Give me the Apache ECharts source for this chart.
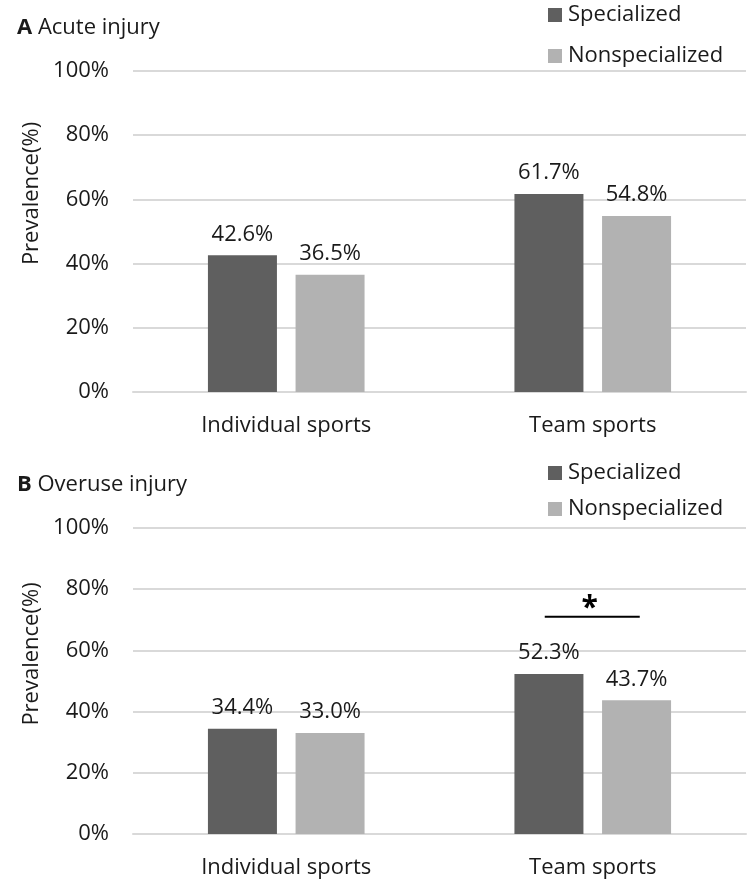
<!DOCTYPE html>
<html>
<head>
<meta charset="utf-8">
<script src="https://cdn.jsdelivr.net/npm/echarts@6/dist/echarts.min.js"></script>
<style>
html,body{margin:0;padding:0;background:#fff;}
#chart{width:750px;height:890px;}
</style>
</head>
<body>
<div id="chart"></div>
<script>
// ---- data ----
var categories = ['Individual sports', 'Team sports'];
var seriesNames = ['Specialized', 'Nonspecialized'];
var acuteSpecialized = [42.6, 61.7];
var acuteNonspecialized = [36.5, 54.8];
var overuseSpecialized = [34.4, 52.3];
var overuseNonspecialized = [33.0, 43.7];
var panelTitles = ['Acute injury', 'Overuse injury'];
var panelLetters = ['A', 'B'];
var yAxisName = 'Prevalence(%)';
var sigCategory = 'Team sports';
var sigMark = '*';

var FONT = '"Open Sans", "Noto Sans", sans-serif';
var TXT = '#1a1a1a';
var DARK = '#5f5f5f';
var LIGHT = '#b2b2b2';
var GRIDC = '#d9d9d9';

var chart = echarts.init(document.getElementById('chart'));

function yAxis(idx) {
  return {
    type: 'value', gridIndex: idx, min: 0, max: 100, interval: 20,
    axisLine: {show: false}, axisTick: {show: false},
    splitLine: {lineStyle: {color: GRIDC, width: 2}},
    axisLabel: {formatter: '{value}%', fontFamily: FONT, fontSize: 22, color: TXT, margin: 24}
  };
}
function xAxis(idx) {
  return {
    type: 'category', gridIndex: idx, data: categories,
    axisLine: {lineStyle: {color: GRIDC, width: 2}}, axisTick: {show: false},
    axisLabel: {fontFamily: FONT, fontSize: 22, color: TXT, margin: 21, lineHeight: 26}
  };
}
function bar(name, data, idx, color) {
  return {
    name: name, type: 'bar', xAxisIndex: idx, yAxisIndex: idx, data: data,
    barWidth: 69, barGap: '27%',
    itemStyle: {color: color},
    label: {show: true, position: 'top', distance: 10, formatter: function(p){return p.value.toFixed(1) + '%';},
            fontFamily: FONT, fontSize: 22, color: TXT},
    emphasis: {disabled: true}, animation: false
  };
}
function legend(top, gap) {
  return {
    orient: 'vertical', left: 543, top: top, itemWidth: 14, itemHeight: 14, itemGap: gap,
    icon: 'rect', data: seriesNames,
    textStyle: {fontFamily: FONT, fontSize: 22, color: TXT, lineHeight: 26, padding: [0,0,0,1]},
    selectedMode: false
  };
}
function title(idx, top) {
  return {
    text: '{b|' + panelLetters[idx] + '} ' + panelTitles[idx], left: 12, top: top,
    textStyle: {fontFamily: FONT, fontSize: 22, color: TXT, fontWeight: 'normal',
      rich: {b: {fontFamily: FONT, fontSize: 22, fontWeight: 'bold', color: TXT}}}
  };
}

chart.setOption({
  animation: false,
  title: [title(0, 12), title(1, 469)],
  legend: [legend(-3, 15), legend(455, 10)],
  grid: [
    {left: 133, right: 4, top: 71, height: 321},
    {left: 133, right: 4, top: 528, height: 306}
  ],
  xAxis: [xAxis(0), xAxis(1)],
  yAxis: [yAxis(0), yAxis(1)],
  series: [
    bar(seriesNames[0], acuteSpecialized, 0, DARK),
    bar(seriesNames[1], acuteNonspecialized, 0, LIGHT),
    bar(seriesNames[0], overuseSpecialized, 1, DARK),
    bar(seriesNames[1], overuseNonspecialized, 1, LIGHT)
  ]
});

// axis names and significance annotation positioned from the grids' scales
var gA = chart.convertToPixel({gridIndex: 0}, ['Individual sports', 50]);
var gB = chart.convertToPixel({gridIndex: 1}, ['Individual sports', 50]);
var sigLine = chart.convertToPixel({gridIndex: 1}, [sigCategory, 71]);
var sigStar = chart.convertToPixel({gridIndex: 1}, [sigCategory, 75.5]);

chart.setOption({
  graphic: [
    {type: 'text', x: 32, y: gA[1] - 38, rotation: Math.PI / 2,
     style: {text: yAxisName, fontFamily: FONT, fontSize: 22, fill: TXT, align: 'center', verticalAlign: 'middle'}},
    {type: 'text', x: 32, y: gB[1] - 27, rotation: Math.PI / 2,
     style: {text: yAxisName, fontFamily: FONT, fontSize: 22, fill: TXT, align: 'center', verticalAlign: 'middle'}},
    {type: 'line', shape: {x1: sigLine[0] - 48, y1: sigLine[1], x2: sigLine[0] + 47, y2: sigLine[1]},
     style: {stroke: '#000', lineWidth: 2}},
    {type: 'text', x: sigLine[0] - 3, y: sigStar[1] + 5,
     style: {text: sigMark, fontFamily: FONT, fontSize: 30, fontWeight: 'bold', fill: '#000', align: 'center', verticalAlign: 'middle'}}
  ]
});
</script>
</body>
</html>
